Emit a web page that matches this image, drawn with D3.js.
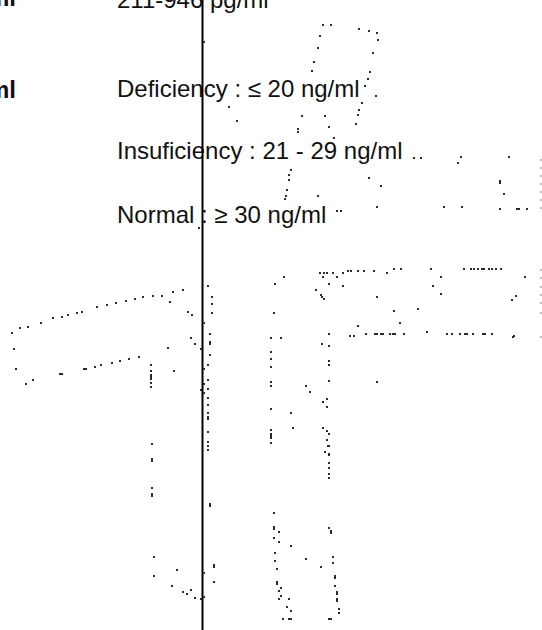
<!DOCTYPE html>
<html>
<head>
<meta charset="utf-8">
<script src="https://cdn.jsdelivr.net/npm/d3@7"></script>
<style>
  html, body { margin: 0; padding: 0; background: #fff; }
  svg { display: block; }
  .lbl { font-family: "Liberation Sans", Arial, sans-serif; font-size: 24px; fill: #111; }
</style>
</head>
<body>
<div id="chart"></div>
<script>
// labels (text, x, baseline y in chart units)
var labelTexts = ["211-946 pg/ml", "Deficiency : \u2264 20 ng/ml", "Insuficiency : 21 - 29 ng/ml", "Normal : \u2265 30 ng/ml"];
var labelY = [8, 97, 159, 223];
var edgeTexts = ["ml", "ml"];
var edgeY = [6, 98];

// dot clusters, [x, y] in chart units
var archPts = [[323,25],[331,25],[359,29],[369,31],[377,33],[378,40],[320,36],[318,48],[373,53],[314,62],[312,71],[370,72],[368,79],[365,86],[376,96],[362,103],[359,110],[358,115],[356,124],[302,116],[325,116],[329,127],[298,129],[298,132],[334,138],[204,42],[229,107],[237,121],[414,158],[421,158],[461,157],[509,157],[458,163]];
var midPts = [[291,170],[289,175],[289,180],[287,190],[286,196],[285,199],[318,196],[369,178],[381,186],[377,207],[444,207],[462,207],[500,181],[500,183],[504,194],[500,209],[517,209],[519,209],[527,209],[337,211],[341,211],[199,228]];
var rowA = [[320,273],[324,273],[327,273],[333,273],[323,277],[337,277],[343,273],[348,271],[351,271],[358,271],[364,271],[374,271],[387,273],[394,269],[401,269],[431,269],[464,269],[471,269],[474,269],[478,269],[482,269],[484,269],[489,269],[492,269],[496,269],[501,269],[284,277],[275,284],[329,284],[343,286],[316,290],[321,295],[322,297],[324,299],[377,297],[441,277],[433,286],[441,294],[525,277],[516,296],[512,300],[274,313],[394,311],[418,309],[513,337]];
var leftDiag = [[208,286],[212,297],[212,304],[212,313],[183,290],[173,292],[170,302],[162,296],[153,296],[143,297],[135,299],[126,301],[116,303],[107,305],[97,307],[82,312],[77,313],[68,315],[62,317],[53,318],[188,312],[192,315],[41,323],[28,327],[20,328],[12,333],[14,349],[16,369],[26,384],[33,380],[60,374],[62,374],[84,369],[86,369],[95,367],[101,365],[112,363],[120,361],[129,359],[139,357],[168,348],[174,371],[191,338],[195,344],[201,349]];
var colA = [[151,365],[151,371],[151,375],[151,377],[151,379],[151,383],[151,387],[152,444],[152,459],[152,461],[152,488],[152,494],[152,496]];
var colB = [[204,323],[210,334],[210,342],[210,344],[210,355],[208,365],[204,369],[208,380],[204,384],[208,389],[201,390],[204,393],[208,398],[208,405],[208,413],[208,417],[208,419],[208,432],[208,442],[208,446],[208,450],[210,504],[210,506]];
var bottomLeft = [[154,557],[177,570],[154,576],[172,586],[183,592],[187,594],[191,590],[195,598],[201,599],[204,597],[204,573],[214,565],[214,567],[214,582]];
var rowB = [[329,334],[350,336],[354,336],[366,334],[375,334],[377,334],[381,334],[383,334],[390,334],[393,334],[395,334],[404,334],[427,332],[447,334],[452,334],[460,334],[465,334],[467,334],[473,334],[483,334],[485,334],[492,334],[514,336],[358,326],[400,323]];
var colC = [[271,338],[281,338],[271,352],[271,359],[271,367],[271,382],[271,386],[271,409],[271,430],[271,434],[271,436],[271,438],[271,443],[322,344],[329,346],[329,361],[329,365],[329,381],[377,382],[306,386],[310,392],[323,402],[327,399],[327,407],[291,413],[293,428],[323,428],[327,431],[329,434],[327,440],[328,446],[329,446],[325,452],[329,454],[329,455],[329,463],[329,468],[329,474],[329,478]];
var bottomRight = [[274,513],[274,527],[274,529],[279,532],[274,538],[279,542],[291,546],[275,553],[275,561],[277,569],[277,582],[277,584],[281,588],[279,591],[281,596],[279,599],[289,599],[287,607],[291,611],[283,619],[289,619],[291,619],[306,559],[321,567],[329,528],[331,531],[331,533],[333,557],[333,563],[335,576],[335,578],[335,586],[337,592],[337,594],[337,599],[337,601],[339,609],[339,613],[329,619],[331,619]];
var edgeFaint = [[541,160],[541,168],[541,176],[541,184],[541,192],[541,200],[541,208],[541,270],[541,278],[541,287],[541,295],[541,303],[541,313],[541,337]];

var dividerX = 202.5;

var w = 542, h = 630;

var svg = d3.select("#chart").append("svg")
    .attr("width", w)
    .attr("height", h);

svg.append("rect")
    .attr("width", w)
    .attr("height", h)
    .style("fill", "#fff");

var x = d3.scaleLinear().domain([0, 542]).range([0, w]);
var y = d3.scaleLinear().domain([0, 630]).range([0, h]);

// labels
svg.selectAll("text.main")
    .data(labelTexts)
    .enter()
    .append("text")
    .attr("class", "lbl main")
    .attr("x", x(117))
    .attr("y", function(d, i) { return y(labelY[i]); })
    .text(function(d) { return d; });

svg.selectAll("text.edge")
    .data(edgeTexts)
    .enter()
    .append("text")
    .attr("class", "lbl edge")
    .attr("x", x(16))
    .attr("y", function(d, i) { return y(edgeY[i]); })
    .attr("text-anchor", "end")
    .style("font-weight", "bold")
    .text(function(d) { return d; });

// divider line
svg.append("line")
    .attr("x1", x(dividerX))
    .attr("x2", x(dividerX))
    .attr("y1", y(0))
    .attr("y2", y(630))
    .style("stroke", "#000")
    .style("stroke-width", 2);

// dots
var allDots = [].concat(archPts, midPts, rowA, leftDiag, colA, colB, bottomLeft, rowB, colC, bottomRight);

svg.append("g")
    .selectAll("rect")
    .data(allDots)
    .enter()
    .append("rect")
    .attr("x", function(d) { return x(d[0]) - 1; })
    .attr("y", function(d) { return y(d[1]) - 1; })
    .attr("width", 2)
    .attr("height", 2)
    .style("fill", "#2a2a2a");

svg.append("g")
    .selectAll("rect")
    .data(edgeFaint)
    .enter()
    .append("rect")
    .attr("x", function(d) { return x(d[0]) - 1; })
    .attr("y", function(d) { return y(d[1]) - 1; })
    .attr("width", 1.5)
    .attr("height", 2)
    .style("fill", "#aaa");
</script>
</body>
</html>
